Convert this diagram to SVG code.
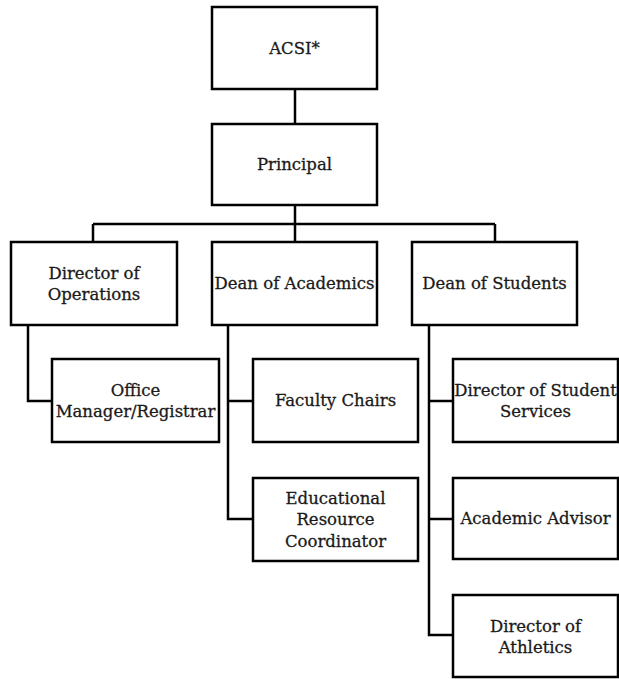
<svg xmlns="http://www.w3.org/2000/svg" width="619" height="679" viewBox="0 0 619 679">
<style>
.box{fill:#fff;stroke:#000;stroke-width:2.5}
.lbl{font-family:"DejaVu Serif","Liberation Serif",serif;font-size:16.5px;fill:#1a1a1a;stroke:#1a1a1a;stroke-width:0.3;text-anchor:middle;dominant-baseline:central}
.con{fill:none;stroke:#000;stroke-width:2.5}
</style>
<rect width="619" height="679" fill="#fff"/>
<g id="connectors" class="con">
<path d="M295 89V124"/>
<path d="M295 205V224M93 224H495M93 224V242M295 224V242M495 224V242"/>
<path d="M28 325V401H52"/>
<path d="M228 325V519H253M228 401H253"/>
<path d="M429 325V635H453M429 401H453M429 519H453"/>
</g>
<g id="acsi"><rect class="box" x="212" y="7" width="165" height="82"/><text class="lbl" x="294.5" y="48">ACSI*</text></g>
<g id="principal"><rect class="box" x="212" y="124" width="165" height="81"/><text class="lbl" x="294.5" y="164.5">Principal</text></g>
<g id="dir-ops"><rect class="box" x="11" y="242" width="166" height="83"/><text class="lbl" x="94" y="273">Director of</text><text class="lbl" x="94" y="294">Operations</text></g>
<g id="dean-acad"><rect class="box" x="212" y="242" width="165" height="83"/><text class="lbl" x="294.5" y="283.5">Dean of Academics</text></g>
<g id="dean-stud"><rect class="box" x="412" y="242" width="165" height="83"/><text class="lbl" x="494.5" y="283.5">Dean of Students</text></g>
<g id="office-mgr"><rect class="box" x="52" y="359" width="167" height="83"/><text class="lbl" x="135.5" y="390">Office</text><text class="lbl" x="135.5" y="411">Manager/Registrar</text></g>
<g id="faculty-chairs"><rect class="box" x="253" y="359" width="165" height="83"/><text class="lbl" x="335.5" y="400.5">Faculty Chairs</text></g>
<g id="edu-resource"><rect class="box" x="253" y="478" width="165" height="83"/><text class="lbl" x="335.5" y="498">Educational</text><text class="lbl" x="335.5" y="519.5">Resource</text><text class="lbl" x="335.5" y="541">Coordinator</text></g>
<g id="dir-student-services"><rect class="box" x="453" y="359" width="165" height="83"/><text class="lbl" x="535.5" y="390">Director of Student</text><text class="lbl" x="535.5" y="411">Services</text></g>
<g id="academic-advisor"><rect class="box" x="453" y="478" width="165" height="81"/><text class="lbl" x="535.5" y="518.5">Academic Advisor</text></g>
<g id="dir-athletics"><rect class="box" x="453" y="595" width="165" height="82"/><text class="lbl" x="535.5" y="626">Director of</text><text class="lbl" x="535.5" y="647">Athletics</text></g>
</svg>
